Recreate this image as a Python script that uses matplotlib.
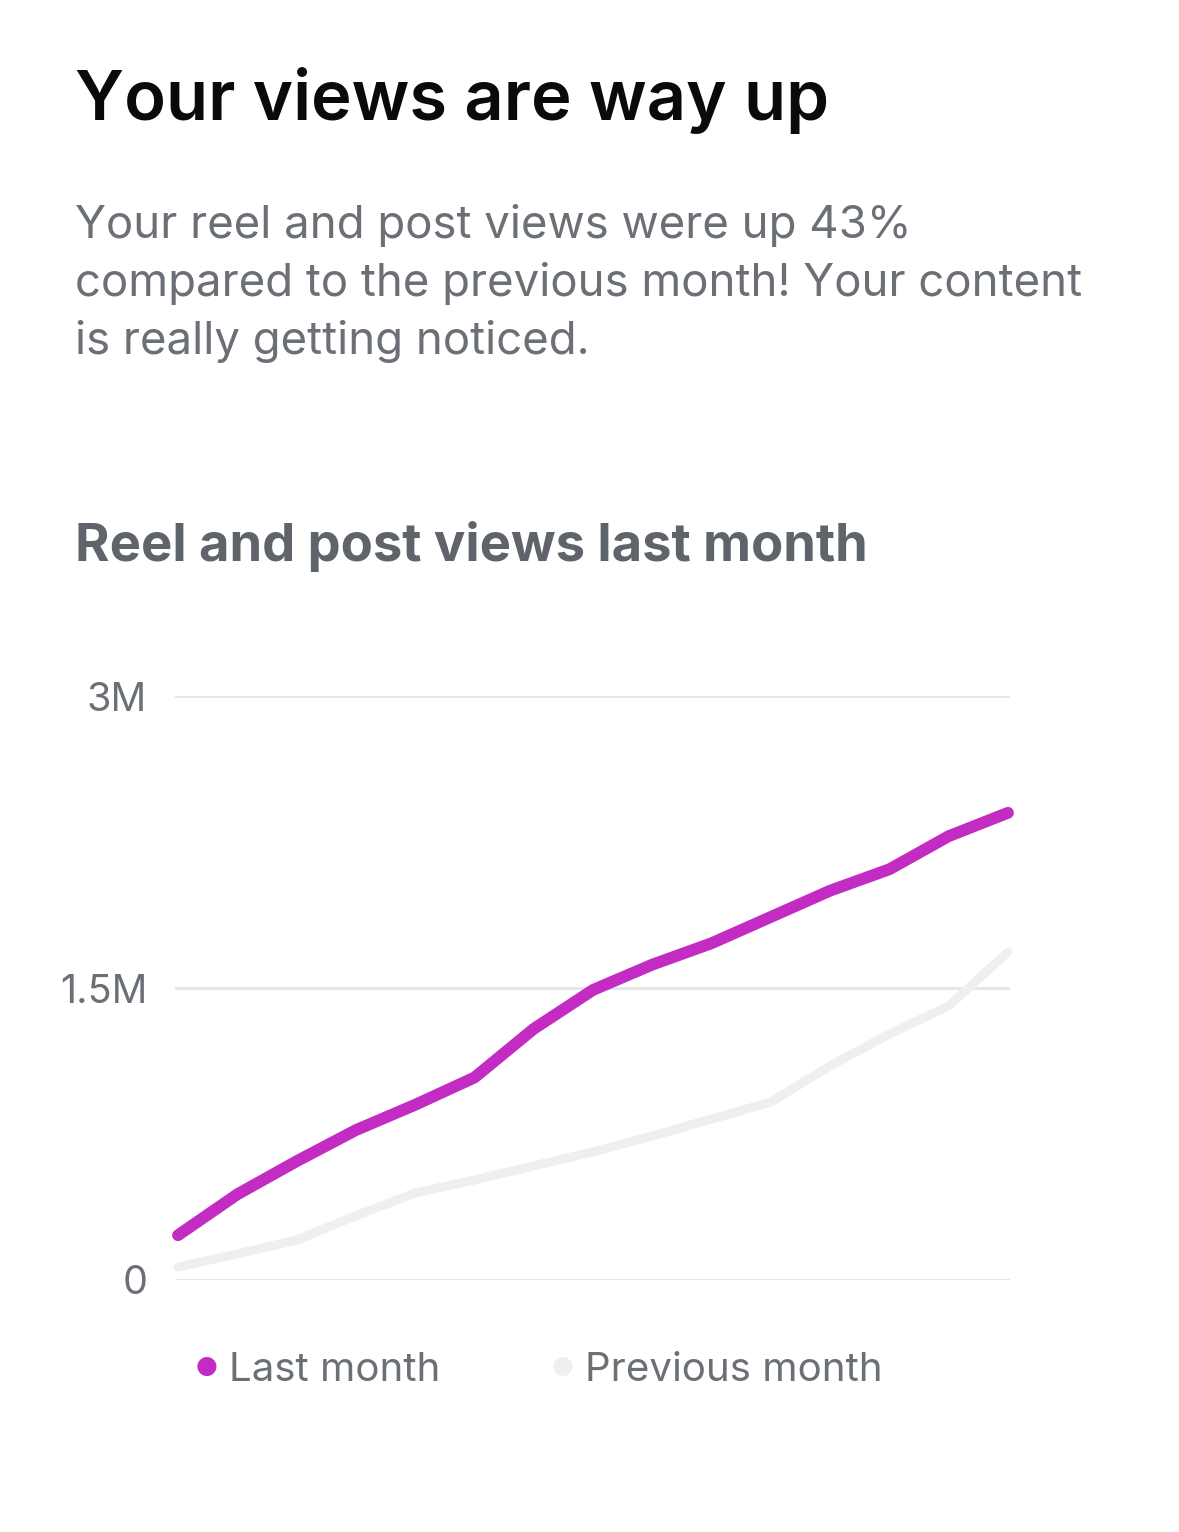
import matplotlib.pyplot as plt
import numpy as np

plt.rcParams['font.family'] = ['Inter', 'DejaVu Sans']

days = np.arange(15)
last_month = [0.23, 0.44, 0.61, 0.77, 0.90, 1.04, 1.29, 1.49, 1.62, 1.73, 1.865, 2.0, 2.11, 2.28, 2.40]
previous_month = [0.067, 0.134, 0.205, 0.33, 0.447, 0.514, 0.586, 0.658, 0.74, 0.827, 0.914, 1.10, 1.264, 1.408, 1.685]
yticks = [0, 1.5, 3]
ytick_labels = ['0', '1.5M', '3M']

magenta = '#C22CC2'
light = '#EFEFEF'
grid_col = '#E4E5E8'
text_gray = '#6B6F76'

W, H = 1179, 1532
fig = plt.figure(figsize=(W / 100, H / 100), dpi=100)
fig.patch.set_facecolor('white')

# headline texts
fig.text(75 / W, 1 - 120 / H, 'Your views are way up', fontsize=49.5, fontweight='semibold',
         color='#0A0A0A', va='baseline', ha='left')
body = ['Your reel and post views were up 43%',
        'compared to the previous month! Your content',
        'is really getting noticed.']
for i, line in enumerate(body):
    fig.text(75 / W, 1 - (238 + 58 * i) / H, line, fontsize=32.8, color=text_gray,
             va='baseline', ha='left')
fig.text(75 / W, 1 - 561 / H, 'Reel and post views last month', fontsize=37.8,
         fontweight='bold', color='#5F636A', va='baseline', ha='left')

# chart area
ax = fig.add_axes([175 / W, (H - 1280) / H, 835 / W, 584 / H])
ax.plot(days, previous_month, color=light, lw=6.5, solid_capstyle='round',
        solid_joinstyle='round', clip_on=False, zorder=3)
ax.plot(days, last_month, color=magenta, lw=8.5, solid_capstyle='round',
        solid_joinstyle='round', clip_on=False, zorder=4)

ax.set_xlim(-3 / 59.3, 14 + 2 / 59.3)
ax.set_ylim(0, 3)
ax.set_yticks(yticks)
ax.set_yticklabels(ytick_labels)
ax.set_xticks([])
for y in yticks:
    ax.axhline(y, color=grid_col, lw=2, zorder=1)
for s in ax.spines.values():
    s.set_visible(False)
ax.tick_params(axis='y', length=0, pad=20, labelsize=28.5, labelcolor=text_gray)
ax.set_facecolor('none')

# legend
fig.text(207 / W, 1 - 1366 / H, '●', fontsize=18, color=magenta, ha='center', va='center',
         family='DejaVu Sans')
fig.text(229 / W, 1 - 1381 / H, 'Last month', fontsize=29, color=text_gray, ha='left', va='baseline')
fig.text(563 / W, 1 - 1366 / H, '●', fontsize=18, color=light, ha='center', va='center',
         family='DejaVu Sans')
fig.text(585 / W, 1 - 1381 / H, 'Previous month', fontsize=29, color=text_gray, ha='left', va='baseline')

fig.savefig('out.png', dpi=100, facecolor='white')
